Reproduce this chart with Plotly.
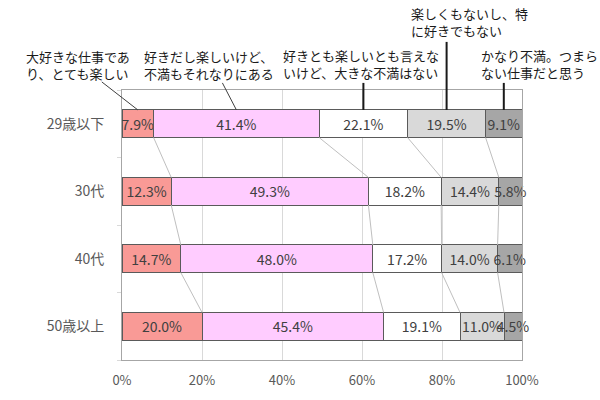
import plotly.graph_objects as go

# ===== data =====
GROUPS = ["29歳以下", "30代", "40代", "50歳以上"]
ANSWERS = ["大好きな仕事であり、とても楽しい",
           "好きだし楽しいけど、不満もそれなりにある",
           "好きとも楽しいとも言えないけど、大きな不満はない",
           "楽しくもないし、特に好きでもない",
           "かなり不満。つまらない仕事だと思う"]
SHARE_1 = [7.9, 12.3, 14.7, 20.0]
SHARE_2 = [41.4, 49.3, 48.0, 45.4]
SHARE_3 = [22.1, 18.2, 17.2, 19.1]
SHARE_4 = [19.5, 14.4, 14.0, 11.0]
SHARE_5 = [9.1, 5.8, 6.1, 4.5]
X_TICKS = [0, 20, 40, 60, 80, 100]

# label text as it wraps in the picture
LABEL_TEXT = ["大好きな仕事であ<br>り、とても楽しい",
              "好きだし楽しいけど、<br>不満もそれなりにある",
              "好きとも楽しいとも言えな<br>いけど、大きな不満はない",
              "楽しくもないし、特<br>に好きでもない",
              "かなり不満。つまら<br>ない仕事だと思う"]

COLORS = ["#F99A96", "#FFCCFF", "#FFFFFF", "#D9D9D9", "#A6A6A6"]
EDGE = "#5A5A5A"
GRID = "#D9D9D9"
TXT = "#404040"
FONT = "Noto Sans CJK JP, Noto Sans, sans-serif"

W, H = 600, 400
L, R, T, B = 122, 78, 90, 40
BAR_W = 0.41

series = [SHARE_1, SHARE_2, SHARE_3, SHARE_4, SHARE_5]
ypos = [len(GROUPS) - 1 - i for i in range(len(GROUPS))]
X_LO, X_HI = 0, 100
Y_LO, Y_HI = -0.5, len(GROUPS) - 0.5


def paper_x(px):
    return (px - L) / (W - L - R)


def paper_y(py):
    return (H - B - py) / (H - T - B)


fig = go.Figure()
for name, vals, col in zip(ANSWERS, series, COLORS):
    fig.add_trace(go.Bar(
        y=ypos, x=vals, name=name, orientation="h", width=BAR_W,
        marker=dict(color=col, line=dict(color=EDGE, width=1)),
        text=[f"{v:.1f}%" for v in vals], textposition="inside",
        insidetextanchor="middle", constraintext="none", textangle=0,
        textfont=dict(size=14, color=TXT), cliponaxis=False,
        hoverinfo="skip", showlegend=False))

# series lines joining the segment boundaries of neighbouring bars
cum = []
for g in range(len(GROUPS)):
    c, acc = [], 0.0
    for s in series[:-1]:
        acc += s[g]
        c.append(acc)
    cum.append(c)
lx, ly = [], []
for g in range(len(GROUPS) - 1):
    for k in range(len(series) - 1):
        lx += [cum[g][k], cum[g + 1][k], None]
        ly += [ypos[g] - BAR_W / 2, ypos[g + 1] + BAR_W / 2, None]
fig.add_trace(go.Scatter(x=lx, y=ly, mode="lines",
                         line=dict(color="#BFBFBF", width=1),
                         hoverinfo="skip", showlegend=False))

# leader lines from the top bar up to each answer label (pixel offsets);
# anchored in paper units (mapped from the data) so they are not clipped
LEADS = [(-36, 28, "#404040", 1), (-14, 27, "#404040", 1),
         (0, 27, "#1a1a1a", 2), (0, 68, "#1a1a1a", 2), (0, 27, "#1a1a1a", 2)]
bar_top = (ypos[0] + BAR_W / 2 - Y_LO) / (Y_HI - Y_LO)
acc = 0.0
for k, s in enumerate(series):
    mid = acc + s[0] / 2
    acc += s[0]
    dx, dy, col, lw = LEADS[k]
    fig.add_shape(type="line", xref="paper", yref="paper",
                  xsizemode="pixel", ysizemode="pixel",
                  xanchor=(mid - X_LO) / (X_HI - X_LO), yanchor=bar_top,
                  x0=0, y0=0, x1=dx, y1=dy,
                  line=dict(color=col, width=lw))

# label text: left edge x, centre y of the two-line block (pixels)
LABEL_POS = [(24, 65), (142, 65), (281, 64), (409, 22), (479, 64)]
for text, (px, py) in zip(LABEL_TEXT, LABEL_POS):
    fig.add_annotation(x=paper_x(px), y=paper_y(py),
                       xref="paper", yref="paper", text=text, align="left",
                       showarrow=False, xanchor="left", yanchor="middle",
                       font=dict(size=13, color="#1a1a1a", family=FONT))

fig.update_layout(
    width=W, height=H, barmode="stack", bargap=0.59,
    plot_bgcolor="white", paper_bgcolor="white",
    font=dict(family=FONT, color="#595959"),
    margin=dict(l=L, r=R, t=T, b=B),
    xaxis=dict(range=[X_LO, X_HI], tickvals=X_TICKS,
               ticktext=[f"{t}%" for t in X_TICKS],
               showgrid=True, gridcolor=GRID, gridwidth=1,
               showline=True, linecolor="#A6A6A6", linewidth=1, mirror=True,
               zeroline=False, ticks="", ticklabelstandoff=8,
               tickfont=dict(size=13, color="#595959")),
    yaxis=dict(range=[Y_LO, Y_HI], tickvals=ypos,
               ticktext=GROUPS, showgrid=False, zeroline=False,
               showline=True, linecolor="#A6A6A6", linewidth=1, mirror=True,
               ticks="", ticklabelstandoff=14,
               minor=dict(tickvals=[i - 0.5 for i in range(len(GROUPS) + 1)],
                          ticks="outside", ticklen=4, tickcolor=GRID),
               tickfont=dict(size=14, color="#595959")),
)

# the page body has an 8px default margin; drop it so the 600x400 figure fills the window
fig.write_html("out.html", config={"displayModeBar": False},
               post_script="document.body.style.margin='0';")
